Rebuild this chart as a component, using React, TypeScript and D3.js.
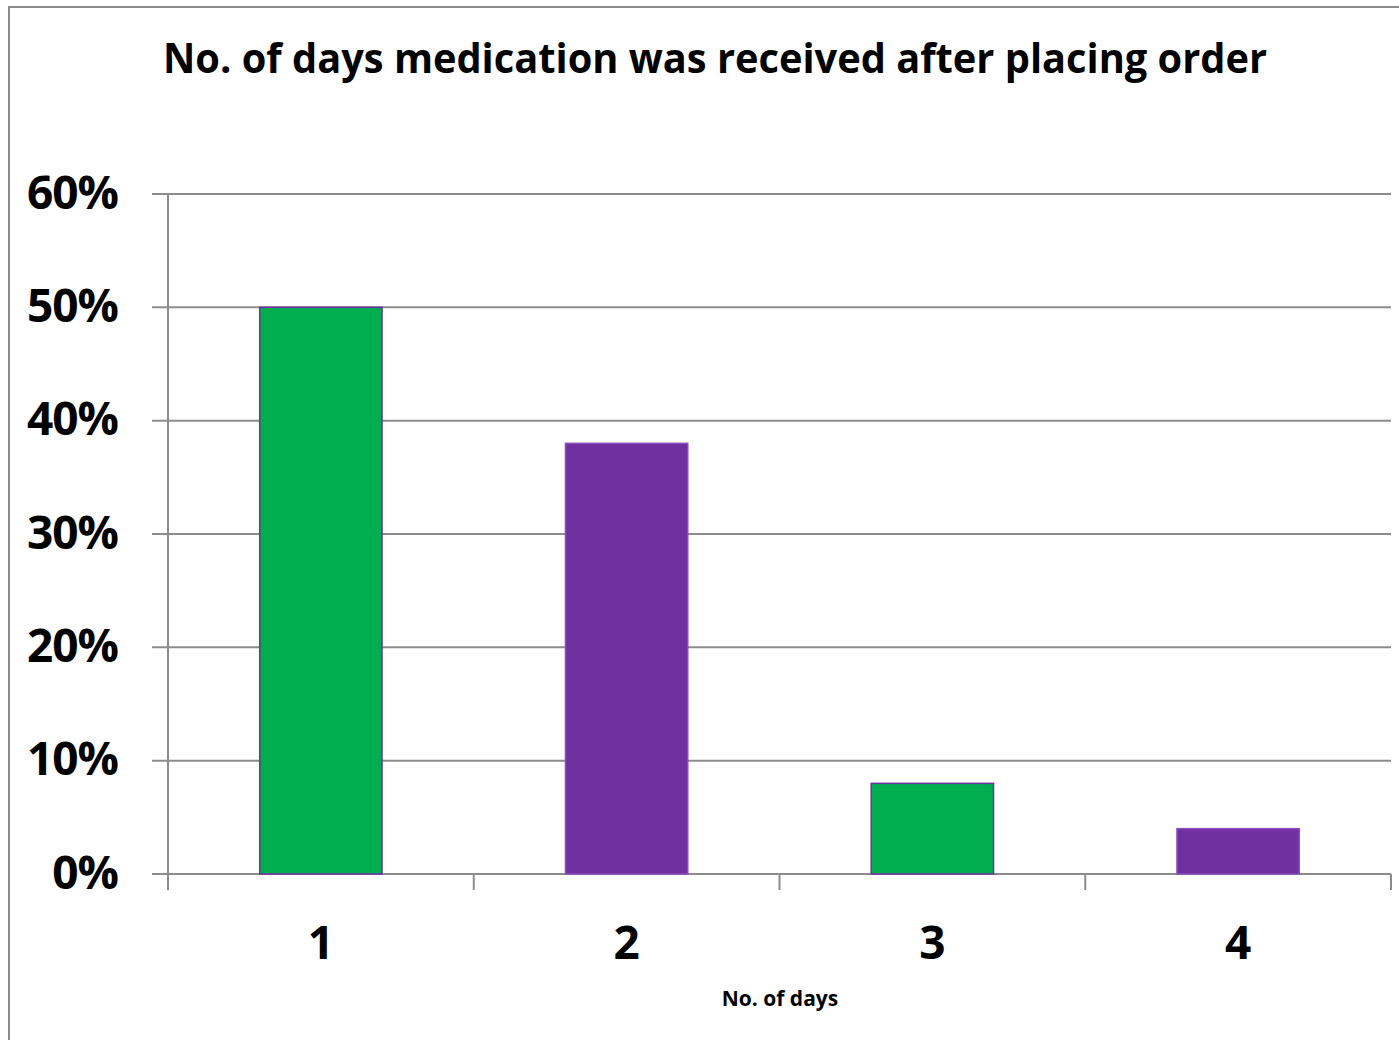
import React, { useEffect, useRef } from 'react';
import * as d3 from 'd3';

const categories = ['1', '2', '3', '4'];
const values = [0.5, 0.38, 0.08, 0.04];
const barColors = ['#00AD4F', '#7030A0', '#00AD4F', '#7030A0'];
const yTicks = [0, 0.1, 0.2, 0.3, 0.4, 0.5, 0.6];

const W = 1399;
const H = 1040;
const FONT = "'Open Sans', 'Liberation Sans', sans-serif";

const App: React.FC = () => {
  const svgRef = useRef<SVGSVGElement>(null);

  useEffect(() => {
    if (!svgRef.current) return;
    const svg = d3.select(svgRef.current);
    svg.selectAll('*').remove();

    const left = 168, right = 1391, top = 194, bottom = 874;

    // outer chart frame
    svg.append('rect')
      .attr('x', 9).attr('y', 7)
      .attr('width', W + 20).attr('height', H + 20)
      .attr('fill', 'white')
      .attr('stroke', '#8c8c8c')
      .attr('stroke-width', 2);

    // title
    svg.append('text')
      .attr('x', 715)
      .attr('y', 73)
      .attr('text-anchor', 'middle')
      .attr('textLength', 1104)
      .attr('lengthAdjust', 'spacingAndGlyphs')
      .style('font-family', FONT)
      .style('font-size', '42px')
      .style('font-weight', 'bold')
      .style('fill', '#000')
      .text('No. of days medication was received after placing order');

    const x = d3.scaleBand<string>()
      .domain(categories)
      .range([left, right])
      .paddingInner(0.6)
      .paddingOuter(0.3);

    const y = d3.scaleLinear()
      .domain([0, 0.6])
      .range([bottom, top]);

    const g = svg.append('g');

    // gridlines
    g.selectAll('.grid')
      .data(yTicks)
      .enter().append('line')
      .attr('x1', 152)
      .attr('x2', right)
      .attr('y1', d => y(d))
      .attr('y2', d => y(d))
      .attr('stroke', '#8c8c8c')
      .attr('stroke-width', 2);

    // y labels
    g.selectAll('.ylab')
      .data(yTicks)
      .enter().append('text')
      .attr('x', 118)
      .attr('y', d => y(d) - 2)
      .attr('dy', '0.36em')
      .attr('text-anchor', 'end')
      .style('font-family', FONT)
      .style('font-size', '46px')
      .style('font-weight', 'bold')
      .style('letter-spacing', '-1px')
      .style('fill', '#000')
      .text(d => d3.format('.0%')(d));

    // y axis line
    g.append('line')
      .attr('x1', left).attr('x2', left)
      .attr('y1', top).attr('y2', 890)
      .attr('stroke', '#8c8c8c')
      .attr('stroke-width', 2);

    // x tick marks at band boundaries
    const boundaries = d3.range(categories.length + 1).map(i => left + i * (right - left) / categories.length);
    g.selectAll('.xtick')
      .data(boundaries)
      .enter().append('line')
      .attr('x1', d => d).attr('x2', d => d)
      .attr('y1', bottom).attr('y2', 890)
      .attr('stroke', '#8c8c8c')
      .attr('stroke-width', 2);

    // bars
    g.selectAll('.bar')
      .data(values)
      .enter().append('rect')
      .attr('x', (d, i) => x(categories[i])!)
      .attr('y', d => y(d))
      .attr('width', x.bandwidth())
      .attr('height', d => bottom - y(d))
      .attr('fill', (d, i) => barColors[i])
      .attr('stroke', (d, i) => (i % 2 === 0 ? '#7030A0' : '#8a4cc0'))
      .attr('stroke-width', 1.5);

    // x labels
    g.selectAll('.xlab')
      .data(categories)
      .enter().append('text')
      .attr('x', d => x(d)! + x.bandwidth() / 2)
      .attr('y', 942)
      .attr('dy', '0.36em')
      .attr('text-anchor', 'middle')
      .style('font-family', FONT)
      .style('font-size', '46px')
      .style('font-weight', 'bold')
      .style('fill', '#000')
      .text(d => d);

    // x axis title
    svg.append('text')
      .attr('x', 780)
      .attr('y', 1006)
      .attr('text-anchor', 'middle')
      .style('font-family', FONT)
      .style('font-size', '21px')
      .style('font-weight', 'bold')
      .style('fill', '#000')
      .text('No. of days');
  }, []);

  return (
    <svg
      ref={svgRef}
      width={W}
      height={H}
      style={{ position: 'absolute', left: 0, top: 0, display: 'block', background: 'white' }}
    />
  );
};

export default App;
